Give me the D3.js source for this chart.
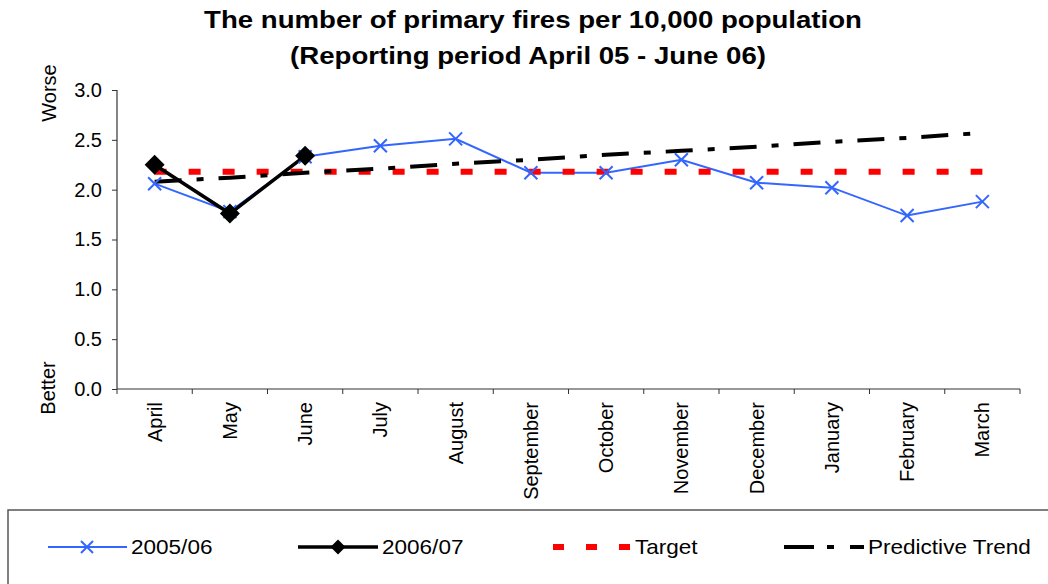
<!DOCTYPE html>
<html><head><meta charset="utf-8">
<script src="https://cdn.jsdelivr.net/npm/d3@7"></script>
<style>body{margin:0;background:#fff}svg{display:block}text{font-family:"Liberation Sans",Arial,sans-serif;fill:#000}</style>
</head><body>
<script>
const months = ["April","May","June","July","August","September","October","November","December","January","February","March"];
const s2005 = [2.06,1.78,2.33,2.44,2.51,2.17,2.17,2.30,2.07,2.02,1.74,1.88];
const s2006 = [2.25,1.76,2.34];
const target = [2.18,2.18,2.18,2.18,2.18,2.18,2.18,2.18,2.18,2.18,2.18,2.18];
const trend = [2.08,2.12,2.17,2.21,2.26,2.30,2.35,2.39,2.43,2.48,2.52,2.57];
const yTicks = [0,0.5,1.0,1.5,2.0,2.5,3.0];
const titleLines = ["The number of primary fires per 10,000 population","(Reporting period April 05 - June 06)"];
const legendLabels = ["2005/06","2006/07","Target","Predictive Trend"];

const W=1048,H=584;
const svg=d3.select("body").append("svg").attr("width",W).attr("height",H);
const x=d3.scaleBand().domain(months).range([117,1020]);
const cx=m=>x(m)+x.bandwidth()/2;
const y=d3.scaleLinear().domain([0,3]).range([389,90]);

// title
const tPos=[[533,28],[528,64]];
titleLines.forEach((t,i)=>{
  svg.append("text").attr("transform",`translate(${tPos[i][0]},${tPos[i][1]}) scale(1.15,1)`)
    .attr("text-anchor","middle").attr("font-size",24).attr("font-weight","bold").text(t);
});

// axes
const yAxis=d3.axisLeft(y).tickValues(yTicks).tickFormat(d3.format(".1f")).tickSize(5).tickPadding(10);
const gy=svg.append("g").attr("transform","translate(117,0)").call(yAxis);
gy.select(".domain").attr("stroke","#333").attr("stroke-width",1.2).attr("d","M0,90V389");
gy.selectAll(".tick line").attr("stroke","#333");
gy.selectAll(".tick text").attr("font-size",20).attr("font-family","Liberation Sans, Arial, sans-serif").attr("fill","#000");

const gx=svg.append("g").attr("transform","translate(0,389)");
gx.append("line").attr("x1",117).attr("x2",1020).attr("stroke","#333").attr("stroke-width",1.2);
const edges=months.map(m=>x(m)).concat([x(months[months.length-1])+x.bandwidth()]);
gx.selectAll("line.tk").data(edges).join("line").attr("class","tk")
  .attr("x1",d=>d).attr("x2",d=>d).attr("y1",0).attr("y2",5).attr("stroke","#333");
gx.selectAll("text").data(months).join("text")
  .attr("transform",d=>`translate(${cx(d)},13) rotate(-90)`)
  .attr("text-anchor","end").attr("dy","0.35em").attr("font-size",20).text(d=>d);

// side labels
svg.append("text").attr("transform","translate(49,93) rotate(-90)").attr("text-anchor","middle").attr("dy","0.35em").attr("font-size",20).text("Worse");
svg.append("text").attr("transform","translate(48,388) rotate(-90)").attr("text-anchor","middle").attr("dy","0.35em").attr("font-size",20).text("Better");

const line=d3.line().x((d,i)=>cx(months[i])).y(d=>y(d));
const blue="#3366FF";

svg.append("path").attr("d",line(s2005)).attr("fill","none").attr("stroke",blue).attr("stroke-width",2);
svg.append("path").attr("d",line(target)).attr("fill","none").attr("stroke","#FF0000").attr("stroke-width",6).attr("stroke-dasharray","12,22");
svg.append("path").attr("d",line(trend)).attr("fill","none").attr("stroke","#000").attr("stroke-width",4).attr("stroke-dasharray","27,15,7,15");
svg.append("path").attr("d",line(s2006)).attr("fill","none").attr("stroke","#000").attr("stroke-width",3.5);

const xMark=(g,px,py,r)=>g.append("path").attr("d",`M${px-r},${py-r}L${px+r},${py+r}M${px-r},${py+r}L${px+r},${py-r}`).attr("stroke",blue).attr("stroke-width",2).attr("fill","none");
s2005.forEach((v,i)=>xMark(svg,cx(months[i]),y(v),6.5));
const dia=(g,px,py,r)=>g.append("path").attr("d",`M${px},${py-r}L${px+r},${py}L${px},${py+r}L${px-r},${py}Z`).attr("fill","#000");
s2006.forEach((v,i)=>dia(svg,cx(months[i]),y(v),10));

// legend
svg.append("rect").attr("x",8).attr("y",510).attr("width",1045).attr("height",90).attr("fill","none").attr("stroke","#555").attr("stroke-width",1.5);
const ly=547;
const lg=svg.append("g");
lg.append("line").attr("x1",48).attr("x2",127).attr("y1",ly).attr("y2",ly).attr("stroke",blue).attr("stroke-width",2);
xMark(lg,87,ly,6);
lg.append("line").attr("x1",298).attr("x2",378).attr("y1",ly).attr("y2",ly).attr("stroke","#000").attr("stroke-width",3.5);
dia(lg,338,ly,7.5);
lg.append("line").attr("x1",553).attr("x2",631).attr("y1",ly).attr("y2",ly).attr("stroke","#FF0000").attr("stroke-width",6).attr("stroke-dasharray","11,22");
lg.append("line").attr("x1",784).attr("x2",864).attr("y1",ly).attr("y2",ly).attr("stroke","#000").attr("stroke-width",4).attr("stroke-dasharray","30,13,7,16");
const lx=[131,382,635,868];
legendLabels.forEach((t,i)=>{
  lg.append("text").attr("transform",`translate(${lx[i]},${ly}) scale(1.1,1)`).attr("dy","0.35em").attr("font-size",20.5).text(t);
});
</script>
</body></html>
